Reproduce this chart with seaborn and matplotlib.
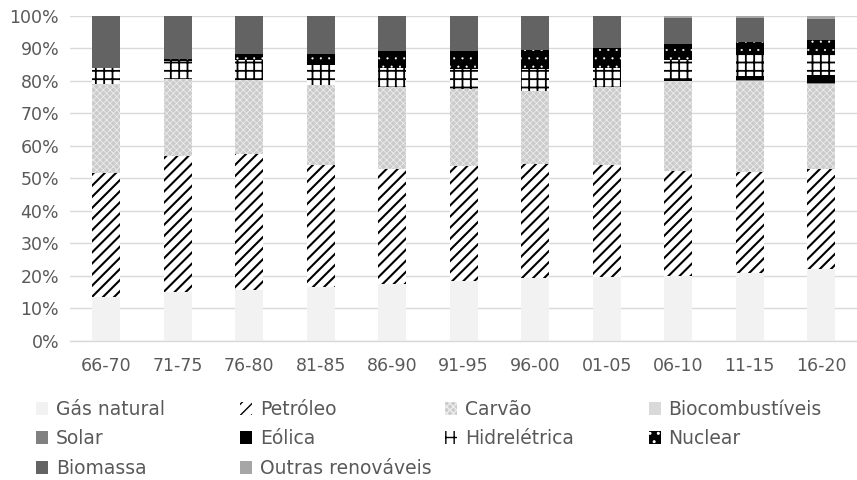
import matplotlib
matplotlib.use("Agg")
import matplotlib as mpl
import matplotlib.pyplot as plt
from matplotlib.patches import Patch
from matplotlib.ticker import PercentFormatter, MultipleLocator
import pandas as pd
import seaborn as sns

# Periods (five-year windows)
periods = ["66-70", "71-75", "76-80", "81-85", "86-90", "91-95",
           "96-00", "01-05", "06-10", "11-15", "16-20"]

# Share of each source in the energy mix (%)
gas_natural = [13.6, 14.9, 15.5, 16.7, 17.5, 18.5, 19.2, 19.5, 20.0, 21.0, 22.0]
petroleo = [37.9, 42.0, 42.0, 37.4, 35.4, 35.3, 35.1, 34.6, 32.3, 31.0, 30.9]
carvao = [27.5, 23.6, 22.9, 24.5, 25.1, 23.6, 22.6, 24.1, 27.3, 27.7, 25.9]
biocombustiveis = [0.0, 0.0, 0.0, 0.0, 0.0, 0.0, 0.0, 0.0, 0.2, 0.3, 0.3]
solar = [0.0, 0.0, 0.0, 0.0, 0.0, 0.0, 0.0, 0.0, 0.0, 0.2, 0.2]
eolica = [0.0, 0.0, 0.0, 0.0, 0.0, 0.0, 0.0, 0.0, 0.4, 1.3, 2.6]
hidreletrica = [5.1, 5.6, 6.0, 6.3, 6.0, 6.1, 6.6, 5.8, 6.2, 6.5, 6.5]
nuclear = [0.0, 0.6, 1.8, 3.3, 5.1, 5.6, 5.9, 6.2, 4.9, 3.9, 4.1]
biomassa = [15.9, 13.3, 11.8, 11.8, 10.9, 10.9, 10.6, 9.8, 8.1, 7.5, 6.5]
outras_renovaveis = [0.0, 0.0, 0.0, 0.0, 0.0, 0.0, 0.0, 0.0, 0.6, 0.6, 1.0]

sources = ["Gás natural", "Petróleo", "Carvão", "Biocombustíveis", "Solar",
           "Eólica", "Hidrelétrica", "Nuclear", "Biomassa", "Outras renováveis"]

df = pd.DataFrame({
    "Período": periods,
    "Gás natural": gas_natural,
    "Petróleo": petroleo,
    "Carvão": carvao,
    "Biocombustíveis": biocombustiveis,
    "Solar": solar,
    "Eólica": eolica,
    "Hidrelétrica": hidreletrica,
    "Nuclear": nuclear,
    "Biomassa": biomassa,
    "Outras renováveis": outras_renovaveis,
})

# fill colour, hatch colour, hatch pattern, hatch line width
styles = {
    "Gás natural": ("#f2f2f2", "#f2f2f2", None, 1.0),
    "Petróleo": ("white", "black", "///", 1.5),
    "Carvão": ("#cbcbcb", "#ececec", "xxxxx", 0.6),
    "Biocombustíveis": ("#d9d9d9", "#d9d9d9", None, 1.0),
    "Solar": ("#808080", "#808080", None, 1.0),
    "Eólica": ("black", "black", None, 1.0),
    "Hidrelétrica": ("white", "black", "++", 1.3),
    "Nuclear": ("black", "white", "..", 0.3),
    "Biomassa": ("#636363", "#636363", None, 1.0),
    "Outras renováveis": ("#a6a6a6", "#a6a6a6", None, 1.0),
}

sns.set_style("white")
plt.rcParams["font.family"] = ["DejaVu Sans"]
text_color = "#595959"
grid_color = "#d9d9d9"


def apply_hatch_width(patches, lw):
    for p in patches:
        if hasattr(p, "set_hatch_linewidth"):
            p.set_hatch_linewidth(lw)


fig = plt.figure(figsize=(8.57, 4.8), dpi=100)
ax = fig.add_axes([0.082, 0.29, 0.918, 0.677])

# Stacked bars: draw running totals from the top layer down
cum = df[sources].cumsum(axis=1)
for src in reversed(sources):
    fc, hc, hatch, hlw = styles[src]
    plot_df = pd.DataFrame({"Período": periods, "total": cum[src].values})
    n_before = len(ax.patches)
    with mpl.rc_context({"hatch.linewidth": hlw}):
        sns.barplot(data=plot_df, x="Período", y="total", order=periods,
                    color=fc, saturation=1, width=0.39, ax=ax,
                    edgecolor=hc, linewidth=0, hatch=hatch, zorder=2)
    apply_hatch_width(ax.patches[n_before:], hlw)

ax.set_ylim(0, 100)
ax.set_xlim(-0.5, len(periods) - 0.5)
ax.yaxis.set_major_locator(MultipleLocator(10))
ax.yaxis.set_major_formatter(PercentFormatter(100, decimals=0))
ax.grid(axis="y", color=grid_color, linewidth=1.0, zorder=0)
ax.set_axisbelow(True)
for side in ["top", "right", "left"]:
    ax.spines[side].set_visible(False)
ax.spines["bottom"].set_color(grid_color)
ax.spines["bottom"].set_linewidth(1.0)
ax.set_xlabel("")
ax.set_ylabel("")
ax.tick_params(axis="both", length=0, labelsize=12.5, colors=text_color)
ax.tick_params(axis="x", pad=12)
ax.tick_params(axis="y", pad=8)

# Legend laid out as a 4-column grid
handles = []
for src in sources:
    fc, hc, hatch, hlw = styles[src]
    h = Patch(facecolor=fc, edgecolor=hc, hatch=hatch, linewidth=0, label=src)
    apply_hatch_width([h], hlw)
    handles.append(h)

col_x = [0.042, 0.280, 0.519, 0.757]
for c in range(4):
    idx = list(range(c, len(sources), 4))
    leg = fig.legend([handles[i] for i in idx], [sources[i] for i in idx],
                     loc="upper left", bbox_to_anchor=(col_x[c], 0.167),
                     frameon=False, fontsize=13.5, handlelength=0.66,
                     handleheight=0.66, handletextpad=0.4,
                     labelspacing=0.56, borderaxespad=0, borderpad=0)
    for t in leg.get_texts():
        t.set_color(text_color)

fig.savefig("out.png", dpi=100)
